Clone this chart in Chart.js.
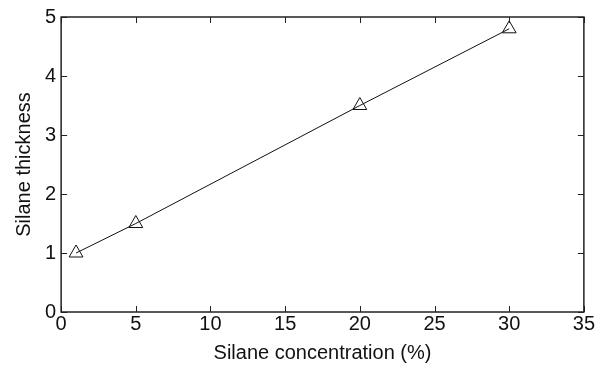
<!DOCTYPE html>
<html>
<head>
<meta charset="utf-8">
<script src="https://cdn.jsdelivr.net/npm/chart.js@4/dist/chart.umd.min.js"></script>
<style>
  html, body { margin: 0; padding: 0; background: #fff; }
</style>
</head>
<body>
<canvas id="chart" width="595" height="365"></canvas>
<script>
var concentration = [1, 5, 20, 30];
var thickness = [1.0, 1.5, 3.5, 4.8];
var xTicks = [0, 5, 10, 15, 20, 25, 30, 35];
var yTicks = [0, 1, 2, 3, 4, 5];

// inward tick marks on all four sides
var innerTicks = {
    id: 'innerTicks',
    afterDraw: function (chart) {
        var c = chart.ctx, a = chart.chartArea;
        var xs = chart.scales.x, ys = chart.scales.y;
        c.save();
        c.strokeStyle = '#222';
        c.lineWidth = 1;
        c.beginPath();
        xTicks.forEach(function (v) {
            var px = Math.round(xs.getPixelForValue(v)) + 0.5;
            c.moveTo(px, a.bottom); c.lineTo(px, a.bottom - 6);
            c.moveTo(px, a.top); c.lineTo(px, a.top + 6);
        });
        yTicks.forEach(function (v) {
            var py = Math.round(ys.getPixelForValue(v)) + 0.5;
            c.moveTo(a.left, py); c.lineTo(a.left + 6, py);
            c.moveTo(a.right, py); c.lineTo(a.right - 6, py);
        });
        c.stroke();
        c.lineWidth = 1.5;
        c.strokeRect(a.left, a.top, a.right - a.left, a.bottom - a.top);
        c.restore();
    }
};

var font = { family: 'Liberation Sans, Arial, sans-serif', size: 20 };

new Chart(document.getElementById('chart').getContext('2d'), {
    type: 'scatter',
    data: {
        datasets: [{
            data: concentration.map(function (x, i) { return { x: x, y: thickness[i] }; }),
            showLine: true,
            borderColor: '#111',
            borderWidth: 1,
            pointStyle: 'triangle',
            pointRadius: 8,
            pointBorderWidth: 1,
            pointBorderColor: '#111',
            pointBackgroundColor: 'rgba(255,255,255,0)',
            tension: 0
        }]
    },
    options: {
        responsive: false,
        animation: false,
        layout: { padding: { left: 12, right: 6, top: 2, bottom: 0 } },
        plugins: { legend: { display: false }, tooltip: { enabled: false } },
        scales: {
            x: {
                type: 'linear',
                min: 0, max: 35,
                afterBuildTicks: function (s) { s.ticks = xTicks.map(function (v) { return { value: v }; }); },
                grid: { display: false, drawTicks: false },
                border: { display: false },
                ticks: { color: '#111', font: font, padding: 0, maxRotation: 0 },
                title: { display: true, text: 'Silane concentration (%)', color: '#111', font: font, padding: { top: 5, bottom: 0 } }
            },
            y: {
                type: 'linear',
                min: 0, max: 5,
                afterBuildTicks: function (s) { s.ticks = yTicks.map(function (v) { return { value: v }; }); },
                grid: { display: false, drawTicks: false },
                border: { display: false },
                ticks: { color: '#111', font: font, padding: 5 },
                title: { display: true, text: 'Silane thickness', color: '#111', font: font, padding: { top: 0, bottom: 4 } }
            }
        }
    },
    plugins: [innerTicks]
});
</script>
</body>
</html>
